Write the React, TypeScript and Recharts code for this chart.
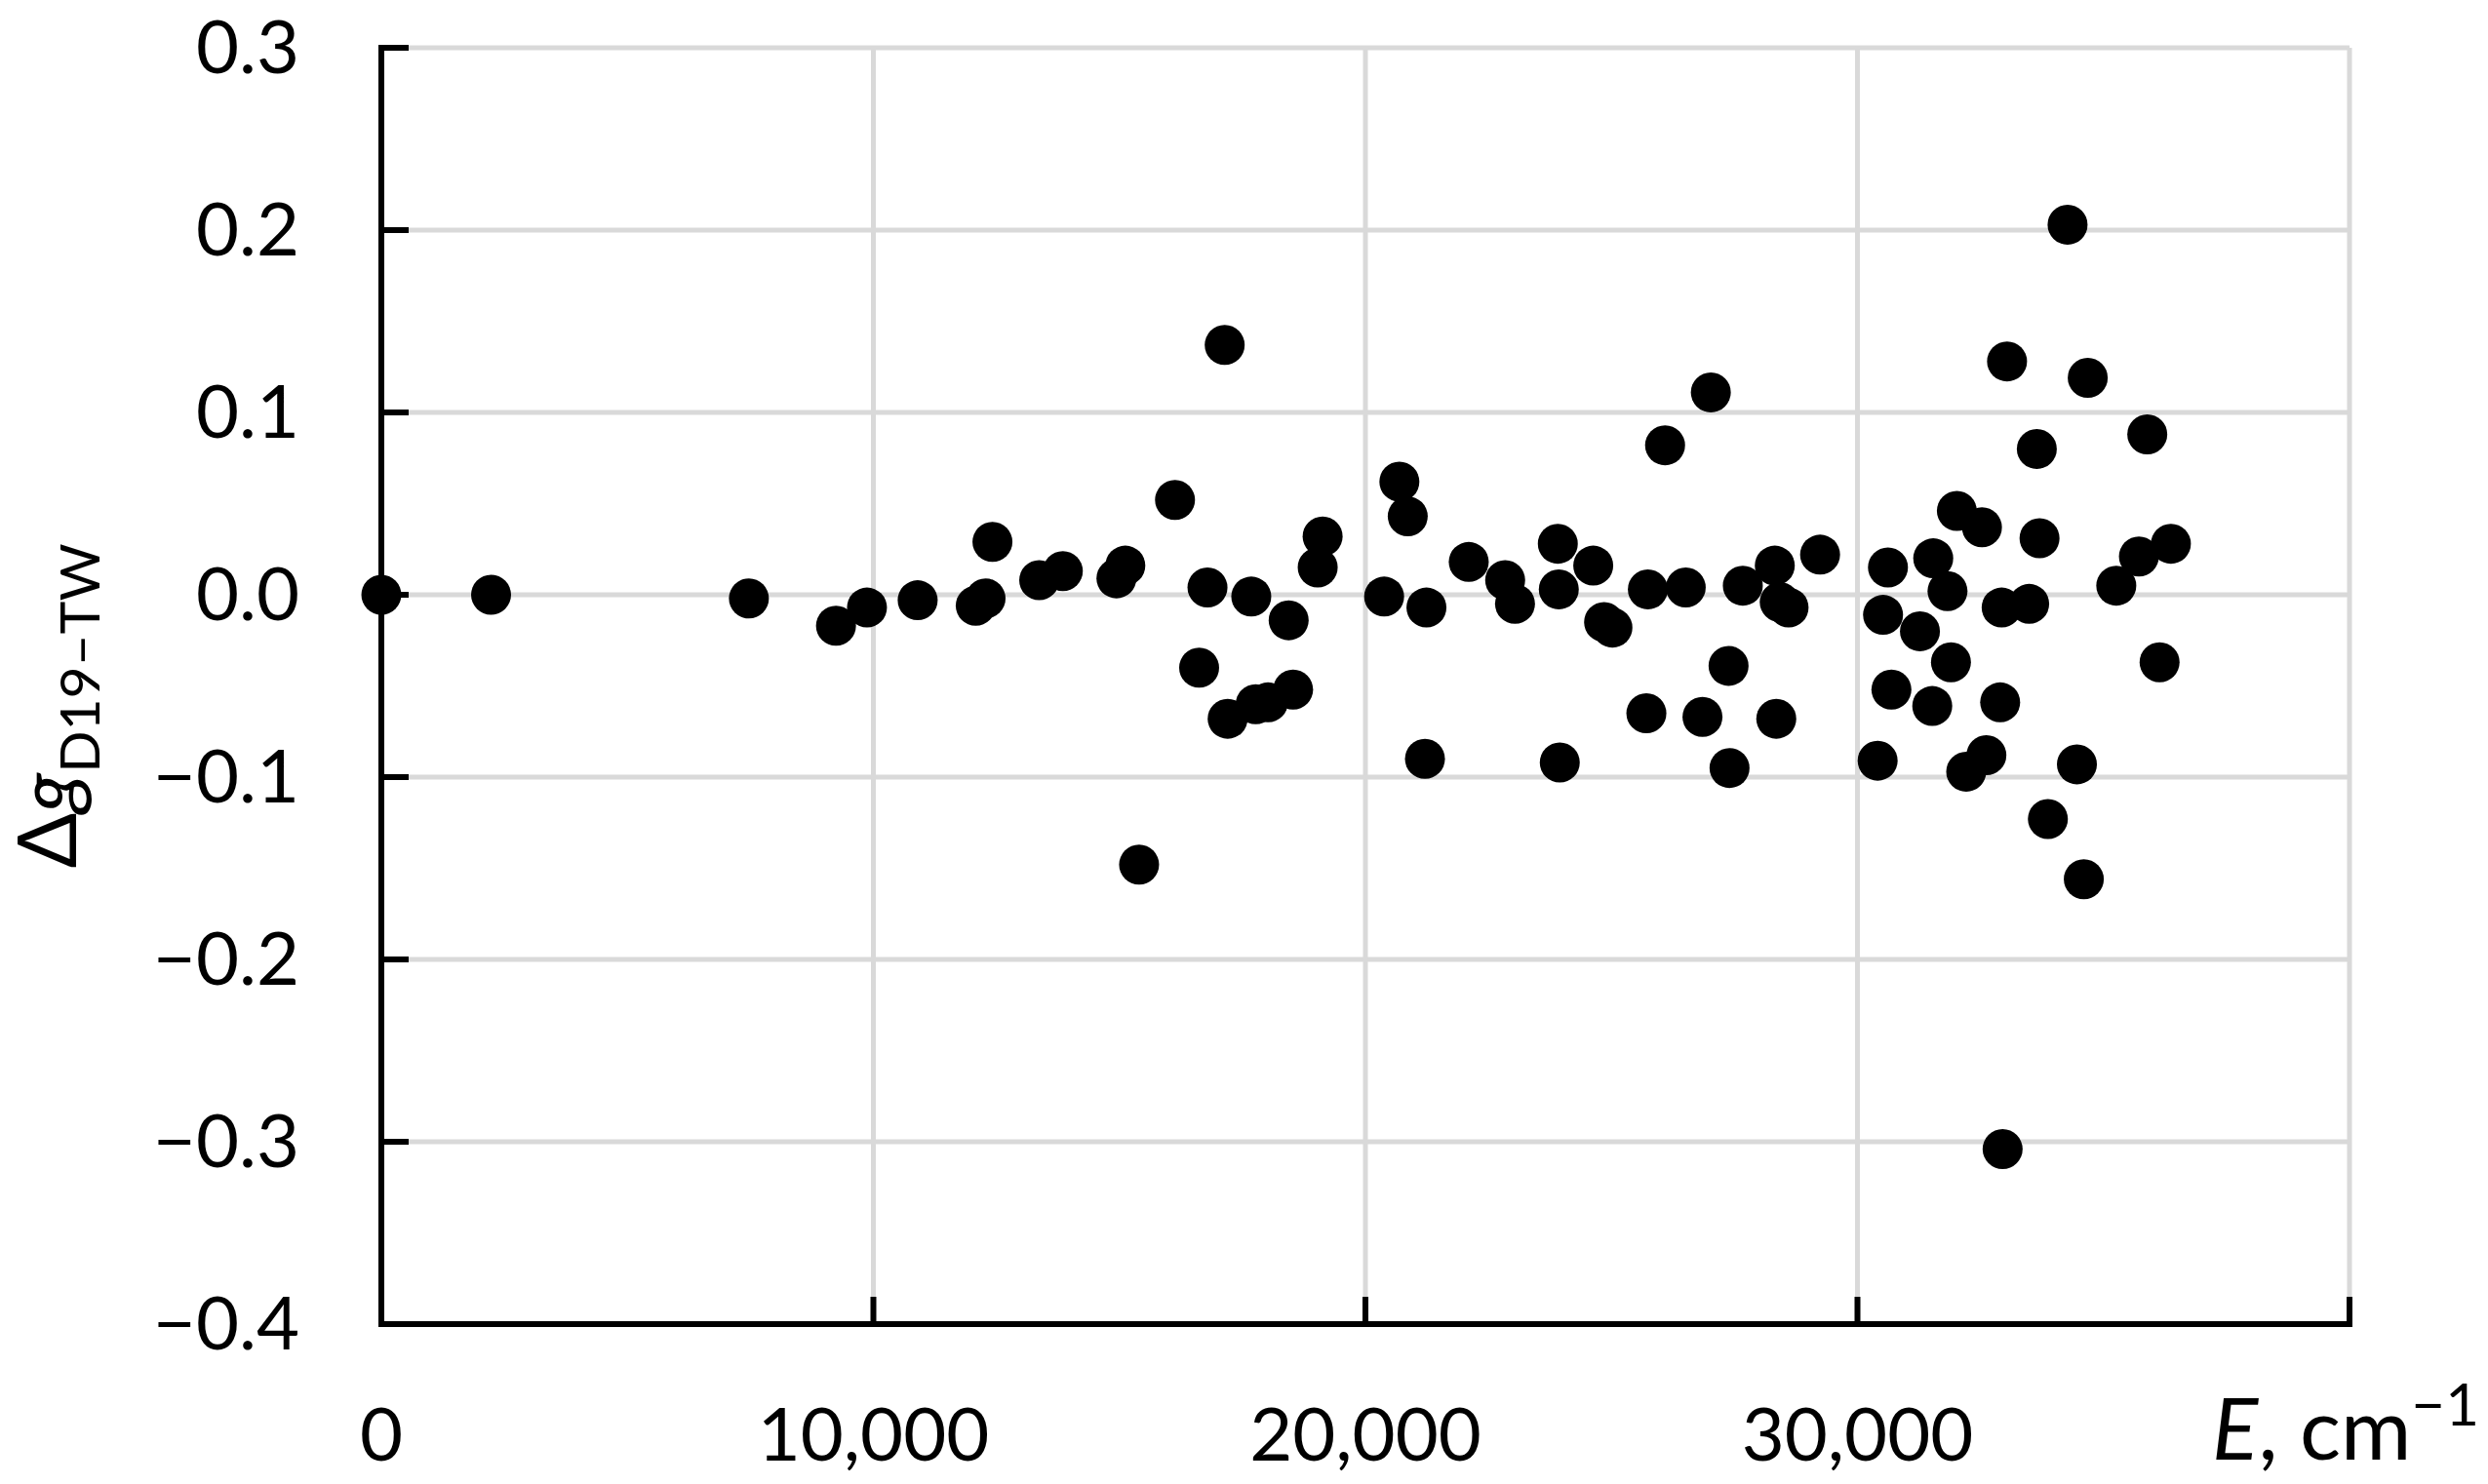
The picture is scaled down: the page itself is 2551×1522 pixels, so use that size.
import { ScatterChart, Scatter, XAxis, YAxis, CartesianGrid } from 'recharts';

const FONT = 'Lato, "Open Sans", sans-serif';

// E, cm^-1
const energies = [
  0, 2230, 7470, 9240, 9870, 10900, 12080, 12280, 12420, 13370,
  13850, 14940, 15120, 15400, 16130, 16620, 16790, 17140, 17200, 17680,
  17770, 18020, 18440, 18530, 19030, 19130, 20380, 20690, 20860, 21210,
  21240, 22100, 22840, 23040, 23910, 23930, 23950, 24630, 24850, 25020,
  25710, 25740, 26090, 26510, 26850, 27020, 27380, 27400, 27670, 28320,
  28350, 28420, 28600, 29240, 30410, 30520, 30620, 30690, 31270, 31520,
  31540, 31830, 31900, 32020, 32210, 32530, 32620, 32900, 32930, 32950,
  33040, 33490, 33645, 33700, 33870, 34270, 34460, 34600, 34680, 35260,
  35720, 35890, 36140, 36370,
];

// Δg (D19 – TW)
const deltas = [
  0, 0, -0.002, -0.017, -0.007, -0.003, -0.006, -0.002, 0.029, 0.008,
  0.013, 0.009, 0.016, -0.148, 0.052, -0.04, 0.004, 0.137, -0.068, -0.001,
  -0.06, -0.059, -0.014, -0.052, 0.015, 0.032, -0.001, 0.062, 0.043, -0.09,
  -0.007, 0.018, 0.008, -0.005, 0.028, 0.003, -0.092, 0.016, -0.015, -0.018,
  -0.065, 0.003, 0.082, 0.004, -0.067, 0.111, -0.039, -0.095, 0.005, 0.016,
  -0.068, -0.004, -0.007, 0.022, -0.091, -0.011, 0.015, -0.052, -0.02, -0.061,
  0.02, 0.002, -0.037, 0.046, -0.097, 0.037, -0.088, -0.059, -0.007, -0.304,
  0.128, -0.005, 0.08, 0.031, -0.123, 0.203, -0.093, -0.156, 0.119, 0.005,
  0.021, 0.088, -0.037, 0.028,
];

const xTicks = [0, 10000, 20000, 30000, 40000];
const yTicks = [-0.4, -0.3, -0.2, -0.1, 0, 0.1, 0.2, 0.3];

const points = energies.map((e, i) => ({ e, dg: deltas[i] }));

const fmtY = (v: number) => (v < -1e-9 ? '\u2212' : '') + Math.abs(v).toFixed(1);
const fmtX = (v: number) => v.toLocaleString('en-US');

function YTick({ x, y, payload }: any) {
  return (
    <g>
      <line x1={x} x2={x + 28} y1={y} y2={y} stroke="#000" strokeWidth={6} />
      <text x={x - 84} y={y + 26} textAnchor="end" fontSize={76} fontFamily={FONT} fill="#000">
        {fmtY(payload.value)}
      </text>
    </g>
  );
}

function XTick({ x, y, payload }: any) {
  const v = payload.value as number;
  return (
    <g>
      <line x1={x} x2={x} y1={y} y2={y - 28} stroke="#000" strokeWidth={6} />
      {v === 40000 ? (
        // axis title sits where the last tick label would be
        <text x={x - 4} y={y + 139} textAnchor="middle" fontSize={88} fontFamily={FONT} fill="#000">
          <tspan fontStyle="italic">E</tspan>
          <tspan>, cm</tspan>
          <tspan fontSize={60} dy={-35}>{'\u22121'}</tspan>
        </text>
      ) : (
        <text x={x} y={y + 140} textAnchor="middle" fontSize={76} fontFamily={FONT} fill="#000">
          {fmtX(v)}
        </text>
      )}
    </g>
  );
}

const YTitle = () => (
  <text
    transform="translate(78, 724) rotate(-90)"
    textAnchor="middle"
    fontSize={84}
    fontFamily={FONT}
    fill="#000"
  >
    <tspan>Δ</tspan>
    <tspan fontStyle="italic">g</tspan>
    <tspan fontSize={57} dy={24}>{'D19\u2013TW'}</tspan>
  </text>
);

const Dot = (props: any) => <circle cx={props.cx} cy={props.cy} r={20.5} fill="#000" />;

export default function App() {
  return (
    <div style={{ position: 'absolute', left: 0, top: 0, background: '#fff' }}>
      <ScatterChart width={2551} height={1522} margin={{ top: 49, right: 142, bottom: 0, left: 0 }}>
        <CartesianGrid stroke="#d9d9d9" strokeWidth={5} />
        <XAxis
          type="number"
          dataKey="e"
          domain={[0, 40000]}
          ticks={xTicks}
          interval={0}
          height={164}
          tickSize={0}
          tickMargin={0}
          tickLine={false}
          axisLine={{ stroke: '#000', strokeWidth: 6, strokeLinecap: 'square' }}
          tick={<XTick />}
        />
        <YAxis
          type="number"
          dataKey="dg"
          domain={[-0.4, 0.3]}
          ticks={yTicks}
          interval={0}
          width={391}
          tickSize={0}
          tickMargin={0}
          tickLine={false}
          axisLine={{ stroke: '#000', strokeWidth: 6, strokeLinecap: 'square' }}
          tick={<YTick />}
          label={{ content: () => <YTitle /> }}
        />
        <Scatter data={points} fill="#000" shape={Dot} isAnimationActive={false} />
      </ScatterChart>
    </div>
  );
}
